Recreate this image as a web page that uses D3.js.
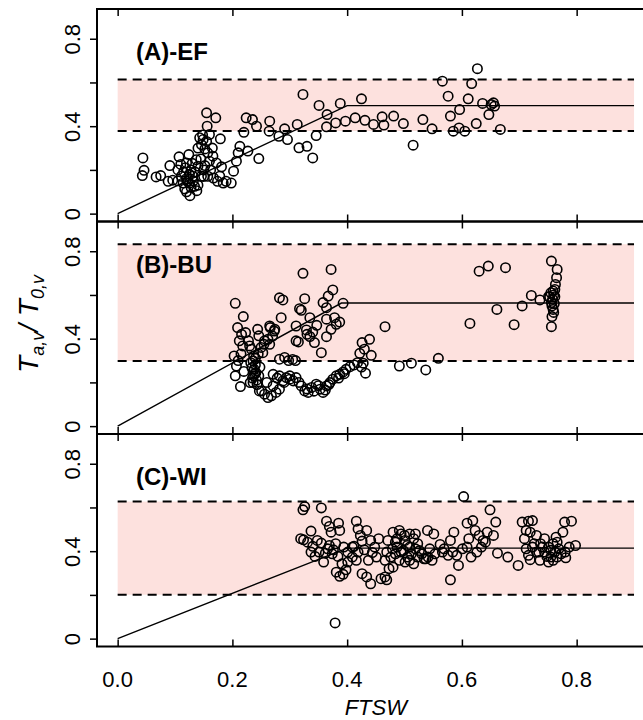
<!DOCTYPE html>
<html>
<head>
<meta charset="utf-8">
<script src="https://cdn.jsdelivr.net/npm/d3@7"></script>
<style>
  body { margin: 0; background: #fff; }
  svg { display: block; font-family: "Liberation Sans", Arial, sans-serif; }
</style>
</head>
<body>
<div id="chart"></div>
<script>
// FTSW vs normalised transpiration, three sites

var panelLabels = ['(A)-EF', '(B)-BU', '(C)-WI'];
var bandLower = [0.378, 0.298, 0.201];
var bandUpper = [0.613, 0.832, 0.627];
var plateauY = [0.494, 0.563, 0.414];
var breakX = [0.40, 0.39, 0.40];
var lineEndX = 0.9;

var xTicks = [0, 0.2, 0.4, 0.6, 0.8];
var xTickLabels = ['0.0', '0.2', '0.4', '0.6', '0.8'];
var yTicks = [0, 0.2, 0.4, 0.6, 0.8];
var yTickLabels = ['0', '', '0.4', '', '0.8'];

var ptsEF = [
    [0.044,0.255],[0.046,0.198],[0.043,0.174],[0.067,0.168],[0.075,0.174],[0.091,0.22],[0.088,0.148],
    [0.096,0.153],[0.107,0.26],[0.105,0.2],[0.111,0.171],[0.114,0.14],[0.117,0.113],[0.126,0.082],
    [0.12,0.232],[0.124,0.27],[0.128,0.2],[0.131,0.171],[0.122,0.148],[0.134,0.125],[0.137,0.247],
    [0.14,0.217],[0.146,0.171],[0.143,0.347],[0.149,0.339],[0.146,0.316],[0.152,0.296],[0.155,0.461],
    [0.171,0.438],[0.156,0.4],[0.16,0.362],[0.179,0.342],[0.157,0.278],[0.166,0.263],[0.172,0.232],
    [0.152,0.22],[0.157,0.171],[0.167,0.163],[0.178,0.171],[0.181,0.214],[0.189,0.148],[0.198,0.14],
    [0.184,0.14],[0.174,0.148],[0.202,0.194],[0.207,0.24],[0.21,0.278],[0.213,0.308],[0.22,0.372],
    [0.227,0.286],[0.224,0.438],[0.235,0.43],[0.242,0.4],[0.246,0.252],[0.264,0.377],[0.265,0.423],
    [0.281,0.354],[0.291,0.388],[0.296,0.339],[0.313,0.408],[0.323,0.545],[0.316,0.301],[0.33,0.308],
    [0.34,0.255],[0.346,0.357],[0.351,0.495],[0.364,0.397],[0.365,0.453],[0.38,0.415],[0.388,0.504],
    [0.397,0.423],[0.414,0.438],[0.425,0.525],[0.431,0.427],[0.446,0.408],[0.461,0.443],[0.464,0.405],
    [0.115,0.19],[0.12,0.16],[0.125,0.18],[0.13,0.23],[0.118,0.21],[0.135,0.19],[0.14,0.13],
    [0.128,0.12],[0.12,0.1],[0.145,0.25],[0.15,0.2],[0.14,0.3],[0.155,0.33],[0.148,0.36],
    [0.16,0.24],[0.162,0.2],[0.11,0.225],[0.105,0.15],[0.132,0.15],[0.138,0.105],[0.125,0.14],
    [0.15,0.17],[0.165,0.3],
    [0.481,0.446],[0.498,0.412],[0.515,0.313],[0.532,0.43],[0.548,0.388],[0.566,0.606],[0.576,0.537],
    [0.58,0.446],[0.585,0.377],[0.596,0.476],[0.595,0.392],[0.605,0.377],[0.611,0.525],[0.617,0.595],
    [0.625,0.412],[0.627,0.663],[0.636,0.504],[0.647,0.453],[0.651,0.499],[0.657,0.492],[0.655,0.507],
    [0.667,0.385]
];

var ptsBU = [
    [0.205,0.562],[0.219,0.501],[0.209,0.451],[0.212,0.39],[0.216,0.42],[0.218,0.367],[0.203,0.321],
    [0.207,0.275],[0.205,0.23],[0.214,0.181],[0.21,0.3],[0.215,0.33],[0.22,0.25],
    [0.223,0.428],[0.23,0.367],[0.237,0.321],[0.234,0.268],[0.237,0.23],[0.231,0.199],[0.241,0.245],
    [0.236,0.298],[0.244,0.443],[0.233,0.352],[0.228,0.39],[0.24,0.28],[0.238,0.26],[0.242,0.21],
    [0.235,0.22],[0.239,0.24],[0.243,0.19],[0.236,0.2],[0.24,0.31],[0.245,0.33],[0.232,0.29],
    [0.246,0.23],[0.248,0.27],[0.25,0.36],[0.253,0.336],[0.256,0.39],[0.246,0.413],
    [0.251,0.161],[0.256,0.146],[0.262,0.131],[0.268,0.139],[0.276,0.154],[0.282,0.169],[0.271,0.184],
    [0.247,0.161],[0.26,0.2],
    [0.255,0.374],[0.262,0.397],[0.266,0.451],[0.273,0.435],[0.265,0.458],[0.274,0.443],[0.27,0.412],
    [0.265,0.374],[0.282,0.587],[0.288,0.577],[0.285,0.496],
    [0.282,0.306],[0.291,0.314],[0.271,0.237],[0.282,0.23],[0.288,0.207],[0.294,0.222],[0.3,0.23],
    [0.306,0.207],[0.311,0.222],[0.32,0.184],[0.326,0.161],[0.332,0.154],[0.338,0.177],[0.346,0.192],
    [0.353,0.169],[0.358,0.154],[0.364,0.184],[0.37,0.199],[0.375,0.215],[0.381,0.23],[0.387,0.237],
    [0.393,0.248],[0.398,0.26],[0.405,0.272],
    [0.278,0.22],[0.29,0.2],[0.3,0.215],[0.316,0.2],[0.33,0.17],[0.342,0.16],[0.35,0.185],
    [0.362,0.165],[0.368,0.19],[0.385,0.22],[0.395,0.24],[0.298,0.3],[0.305,0.305],
    [0.311,0.458],[0.323,0.699],[0.326,0.583],[0.317,0.537],[0.32,0.53],[0.311,0.39],[0.315,0.385],
    [0.329,0.44],[0.335,0.496],[0.343,0.382],[0.347,0.461],[0.355,0.336],[0.358,0.565],[0.364,0.542],
    [0.367,0.595],[0.375,0.623],[0.372,0.717],[0.364,0.489],[0.364,0.409],[0.372,0.443],[0.378,0.496],
    [0.381,0.466],[0.387,0.476],[0.393,0.562],[0.33,0.42],[0.335,0.41],[0.34,0.43],[0.31,0.3],
    [0.426,0.382],[0.43,0.352],[0.439,0.397],[0.442,0.324],[0.428,0.288],[0.432,0.242],[0.422,0.333],
    [0.425,0.27],[0.418,0.29],[0.412,0.28],[0.466,0.455],[0.491,0.275],[0.512,0.288],[0.537,0.257],
    [0.559,0.31],
    [0.614,0.47],[0.63,0.709],[0.646,0.732],[0.661,0.534],[0.676,0.725],[0.691,0.464],[0.705,0.55],
    [0.721,0.598],[0.736,0.577],[0.751,0.592],
    [0.756,0.755],[0.766,0.717],[0.765,0.679],[0.763,0.648],[0.759,0.618],[0.762,0.592],[0.753,0.592],
    [0.756,0.565],[0.759,0.534],[0.757,0.501],[0.756,0.455],[0.76,0.6],[0.758,0.58],[0.761,0.56],
    [0.757,0.55],[0.762,0.625],[0.76,0.52],[0.755,0.61]
];

var ptsWI = [
    [0.323,0.589],[0.326,0.604],[0.355,0.598],[0.319,0.457],[0.324,0.452],[0.337,0.492],[0.331,0.441],
    [0.34,0.422],[0.337,0.396],[0.344,0.376],[0.348,0.449],[0.355,0.437],[0.364,0.537],[0.369,0.513],
    [0.372,0.487],[0.385,0.528],[0.387,0.495],[0.362,0.391],[0.359,0.35],[0.369,0.426],[0.376,0.406],
    [0.38,0.434],[0.384,0.376],[0.381,0.304],[0.387,0.285],[0.393,0.294],[0.398,0.315],[0.401,0.35],
    [0.391,0.342],[0.409,0.373],[0.412,0.422],[0.416,0.537],[0.419,0.502],[0.423,0.472],[0.426,0.446],
    [0.43,0.406],[0.434,0.495],[0.426,0.297],[0.434,0.282],[0.441,0.251],[0.444,0.394],[0.451,0.373],
    [0.448,0.419],[0.455,0.457],[0.459,0.274],[0.466,0.282],[0.469,0.269],[0.473,0.32],[0.476,0.373],
    [0.48,0.487],[0.484,0.441],
    [0.494,0.479],[0.501,0.449],[0.487,0.419],[0.498,0.403],[0.505,0.426],[0.509,0.479],[0.516,0.457],
    [0.512,0.388],[0.519,0.411],[0.523,0.373],[0.491,0.358],[0.501,0.35],[0.48,0.327],[0.484,0.388],
    [0.509,0.358],[0.523,0.434],[0.526,0.403],[0.53,0.388],[0.534,0.365],[0.516,0.342],[0.494,0.396],
    [0.505,0.373],[0.487,0.457],[0.509,0.419],[0.491,0.495],[0.5,0.472],[0.519,0.479],[0.479,0.411],
    [0.469,0.396],[0.466,0.358],[0.471,0.449],[0.541,0.373],[0.544,0.411],[0.553,0.388],
    [0.409,0.419],[0.419,0.396],[0.416,0.358],[0.437,0.358],[0.441,0.449],[0.401,0.396],[0.394,0.419],
    [0.374,0.388],[0.366,0.411],[0.351,0.396],
    [0.537,0.365],[0.548,0.358],[0.54,0.495],[0.551,0.479],[0.562,0.431],[0.566,0.396],[0.58,0.449],
    [0.586,0.487],[0.58,0.269],[0.584,0.396],[0.591,0.381],[0.594,0.335],[0.601,0.411],[0.603,0.65],
    [0.609,0.528],[0.612,0.457],[0.619,0.54],[0.623,0.495],[0.626,0.396],[0.63,0.472],[0.637,0.449],
    [0.644,0.487],[0.649,0.589],[0.655,0.472],[0.659,0.533],[0.662,0.391],[0.68,0.373],[0.698,0.335],
    [0.569,0.411],[0.576,0.381],[0.609,0.419],[0.616,0.373],[0.634,0.419],[0.641,0.441],
    [0.705,0.533],[0.716,0.537],[0.723,0.54],[0.709,0.457],[0.712,0.495],[0.719,0.487],[0.716,0.381],
    [0.719,0.361],[0.726,0.434],[0.73,0.472],[0.734,0.396],[0.736,0.358],[0.74,0.419],[0.744,0.457],
    [0.748,0.376],[0.751,0.35],[0.755,0.404],[0.759,0.434],[0.764,0.464],[0.766,0.373],[0.769,0.411],
    [0.776,0.487],[0.779,0.533],[0.781,0.37],[0.787,0.419],[0.791,0.537],[0.798,0.426],
    [0.723,0.419],[0.73,0.396],[0.737,0.434],[0.744,0.396],[0.751,0.419],[0.755,0.373],[0.762,0.396],
    [0.766,0.441],[0.773,0.388],[0.78,0.396],[0.759,0.358],[0.712,0.411],
    [0.379,0.072]
];

var panelPoints = [ptsEF, ptsBU, ptsWI];

var width = 643;
var height = 720;
var panelTop = 9;
var panelH = 212.5;

var x = d3.scaleLinear().domain([-0.036, 0.936]).range([97, 97 + 0.972 * 573.75]);
var y = d3.scaleLinear().domain([-0.036, 0.936]).range([panelH, 0]);

var svg = d3.select('#chart')
    .append('svg')
    .attr('width', width)
    .attr('height', height);

panelLabels.forEach(function(label, i) {
    var g = svg.append('g')
        .attr('transform', 'translate(0,' + (panelTop + i * panelH) + ')');

    // shaded range between the dashed lines
    g.append('rect')
        .attr('x', x(0))
        .attr('y', y(bandUpper[i]))
        .attr('width', x(lineEndX) - x(0))
        .attr('height', y(bandLower[i]) - y(bandUpper[i]))
        .style('fill', '#fde1de');

    [bandUpper[i], bandLower[i]].forEach(function(v) {
        g.append('line')
            .attr('x1', x(0)).attr('x2', x(lineEndX))
            .attr('y1', y(v)).attr('y2', y(v))
            .style('stroke', '#000')
            .style('stroke-width', 2)
            .style('stroke-dasharray', '9,6');
    });

    var fit = [[0, 0], [breakX[i], plateauY[i]], [lineEndX, plateauY[i]]];
    g.append('path')
        .attr('d', d3.line().x(function(d){ return x(d[0]); }).y(function(d){ return y(d[1]); })(fit))
        .style('fill', 'none')
        .style('stroke', '#000')
        .style('stroke-width', 1.4);

    g.selectAll('.pt')
        .data(panelPoints[i])
        .enter()
        .append('circle')
        .attr('class', 'pt')
        .attr('cx', function(d){ return x(d[0]); })
        .attr('cy', function(d){ return y(d[1]); })
        .attr('r', 4.7)
        .style('fill', 'none')
        .style('stroke', '#000')
        .style('stroke-width', 1.6);

    // frame (right side falls outside the picture)
    g.append('rect')
        .attr('x', x.range()[0])
        .attr('y', 0)
        .attr('width', x.range()[1] - x.range()[0])
        .attr('height', panelH)
        .style('fill', 'none')
        .style('stroke', '#000')
        .style('stroke-width', 2);

    // x ticks point inward, top and bottom
    g.append('g')
        .attr('transform', 'translate(0,' + panelH + ')')
        .call(d3.axisTop(x).tickValues(xTicks).tickSize(7).tickFormat(''))
        .call(function(a){ a.select('.domain').remove(); })
        .selectAll('line').style('stroke-width', 1.5);
    g.append('g')
        .call(d3.axisBottom(x).tickValues(xTicks).tickSize(7).tickFormat(''))
        .call(function(a){ a.select('.domain').remove(); })
        .selectAll('line').style('stroke-width', 1.5);

    var yAxis = g.append('g')
        .attr('transform', 'translate(' + x.range()[0] + ',0)')
        .call(d3.axisLeft(y).tickValues(yTicks).tickSize(7)
            .tickFormat(function(d, k){ return yTickLabels[k]; }));
    yAxis.select('.domain').remove();
    yAxis.selectAll('line').style('stroke-width', 1.5);
    yAxis.selectAll('text')
        .attr('x', null).attr('dy', null)
        .attr('transform', 'translate(-17,0) rotate(-90)')
        .attr('text-anchor', 'middle')
        .style('font-size', '22px')
        .style('font-family', '"Liberation Sans", Arial, sans-serif')
        .style('fill', '#000');

    g.append('text')
        .attr('x', 136)
        .attr('y', 51)
        .style('font-size', '24px')
        .style('font-weight', 'bold')
        .text(label);
});

var bottom = panelTop + 3 * panelH;

svg.append('g')
    .selectAll('text')
    .data(xTicks)
    .enter()
    .append('text')
    .attr('x', function(d){ return x(d); })
    .attr('y', bottom + 40)
    .attr('text-anchor', 'middle')
    .style('font-size', '22px')
    .text(function(d, k){ return xTickLabels[k]; });

svg.append('text')
    .attr('x', x(0.45))
    .attr('y', 715)
    .attr('text-anchor', 'middle')
    .style('font-size', '22px')
    .style('font-style', 'italic')
    .text('FTSW');

var yTitle = svg.append('text')
    .attr('transform', 'translate(38,324) rotate(-90)')
    .attr('text-anchor', 'middle')
    .style('font-size', '28px')
    .style('font-style', 'italic');
yTitle.append('tspan').text('T');
yTitle.append('tspan').attr('dy', 6).style('font-size', '18px').text('a,v');
yTitle.append('tspan').attr('dy', -6).text('/ T');
yTitle.append('tspan').attr('dy', 6).style('font-size', '18px').text('0,v');
</script>
</body>
</html>
